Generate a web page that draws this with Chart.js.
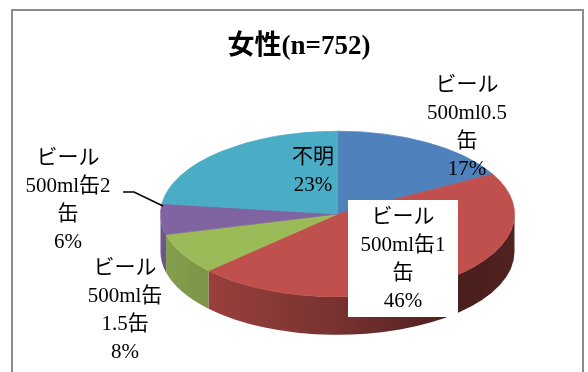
<!DOCTYPE html>
<html>
<head>
<meta charset="utf-8">
<script src="https://cdn.jsdelivr.net/npm/chart.js@4/dist/chart.umd.min.js"></script>
<style>
	html, body { margin: 0; padding: 0; background: #fff; }
	#chart { display: block; }
</style>
</head>
<body>
<canvas id="chart" width="588" height="372"></canvas>
<script>
// 女性の回答 (n=752)
var title = '女性(n=752)';
var labelLines = [
	['ビール', '500ml0.5', '缶'],
	['ビール', '500ml缶1', '缶'],
	['ビール', '500ml缶', '1.5缶'],
	['ビール', '500ml缶2', '缶'],
	['不明']
];
var percents = [17, 46, 8, 6, 23];
var colors = ['#4F81BD', '#C0504D', '#9BBB59', '#8064A2', '#4BACC6'];

// where each label block is centred (x, y of first line)
var labelPos = [
	[467, 85],
	[403, 217],
	[125, 268],
	[68, 158],
	[313, 157]
];
var lineStep = 28;
var tilt = 0.468;   // vertical squash of the pie
var depth = 38;     // thickness of the pie edge

function shade(hex, f) {
	var n = parseInt(hex.slice(1), 16);
	var r = Math.round(((n >> 16) & 255) * f);
	var g = Math.round(((n >> 8) & 255) * f);
	var b = Math.round((n & 255) * f);
	return 'rgb(' + r + ',' + g + ',' + b + ')';
}

var pie3d = {
	id: 'pie3d',
	beforeDraw: function(chart) {
		var ctx = chart.ctx;
		ctx.save();
		ctx.fillStyle = '#fff';
		ctx.fillRect(0, 0, chart.width, chart.height);
		ctx.strokeStyle = '#8c8c8c';
		ctx.lineWidth = 2;
		ctx.strokeRect(12, 10, 571, 420);
		ctx.restore();
	},
	beforeDatasetsDraw: function(chart) {
		var ctx = chart.ctx;
		var arcs = chart.getDatasetMeta(0).data;
		var cx = arcs[0].x, cy = arcs[0].y, r = arcs[0].outerRadius;

		// side walls of the front half
		arcs.forEach(function(arc, i) {
			var a0 = Math.max(arc.startAngle, 0);
			var a1 = Math.min(arc.endAngle, Math.PI);
			if (a1 <= a0) return;
			var grad = ctx.createLinearGradient(cx - r, 0, cx + r, 0);
			grad.addColorStop(0, shade(colors[i], 0.86));
			grad.addColorStop(0.5, shade(colors[i], 0.62));
			grad.addColorStop(0.85, shade(colors[i], 0.38));
			grad.addColorStop(1, shade(colors[i], 0.42));
			ctx.beginPath();
			ctx.ellipse(cx, cy, r, r * tilt, 0, a0, a1);
			ctx.ellipse(cx, cy + depth, r, r * tilt, 0, a1, a0, true);
			ctx.closePath();
			ctx.fillStyle = grad;
			ctx.fill();
		});

		// squash the top face into an ellipse
		ctx.save();
		ctx.translate(cx, cy);
		ctx.scale(1, tilt);
		ctx.translate(-cx, -cy);
	},
	afterDatasetsDraw: function(chart) {
		chart.ctx.restore();
	},
	afterDraw: function(chart) {
		var ctx = chart.ctx;
		ctx.save();
		ctx.fillStyle = '#000';
		ctx.textAlign = 'center';
		ctx.textBaseline = 'middle';
		ctx.font = 'bold 27px "Liberation Serif", "Noto Sans CJK JP"';
		ctx.fillText(title, 299, 47);

		// leader line for the small purple slice
		ctx.strokeStyle = '#000';
		ctx.lineWidth = 1.5;
		ctx.beginPath();
		ctx.moveTo(123, 192);
		ctx.lineTo(134, 192);
		ctx.lineTo(163, 206);
		ctx.stroke();

		// white box behind the big slice label
		ctx.fillStyle = '#fff';
		ctx.fillRect(348, 200, 110, 117);

		ctx.font = '21px "Liberation Serif", "Noto Sans CJK JP"';
		ctx.fillStyle = '#000';
		labelLines.forEach(function(lines, i) {
			var all = lines.concat([percents[i] + '%']);
			all.forEach(function(txt, j) {
				ctx.fillText(txt, labelPos[i][0], labelPos[i][1] + j * lineStep);
			});
		});
		ctx.restore();
	}
};

var chart = new Chart(document.getElementById('chart'), {
	type: 'pie',
	data: {
		labels: labelLines.map(function(l) { return l.join(''); }),
		datasets: [{
			data: percents,
			backgroundColor: colors,
			borderColor: colors,
			borderWidth: 1,
			radius: 177
		}]
	},
	options: {
		responsive: false,
		animation: false,
		events: [],
		layout: { padding: { top: 56, left: 87, right: 0, bottom: 0 } },
		plugins: {
			legend: { display: false },
			title: { display: false },
			tooltip: { enabled: false }
		}
	},
	plugins: [pie3d]
});
</script>
</body>
</html>
